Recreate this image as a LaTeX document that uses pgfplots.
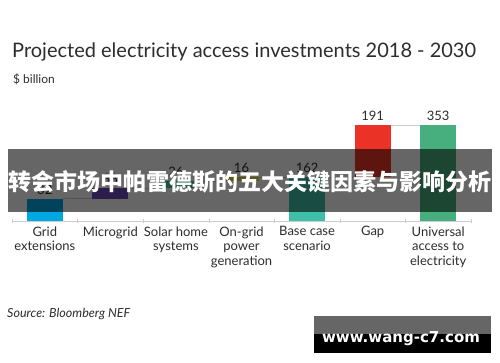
\documentclass[border=0pt]{standalone}
\usepackage{pgfplots}
\pgfplotsset{compat=1.18}
\usepackage{pgfplotstable}
\usepackage{fontspec}
\setmainfont{Lato}
\newfontfamily\cjk{Noto Sans CJK SC}
\newfontfamily\wm{DejaVu Sans}
\definecolor{cgrid}{RGB}{0,168,225}
\definecolor{cmicro}{RGB}{110,75,190}
\definecolor{csolar}{RGB}{62,205,155}
\definecolor{congrid}{RGB}{232,208,62}
\definecolor{cbase}{RGB}{63,190,168}
\definecolor{cgap}{RGB}{235,50,38}
\definecolor{cuniv}{RGB}{70,175,125}
\definecolor{txt}{RGB}{45,45,45}
\definecolor{axl}{RGB}{205,205,205}
\pgfplotstableread{
x off grid micro solar ongrid base gap univ
0 0   82 0  0  0  0   0   0
1 82  0  38 0  0  0   0   0
2 120 0  0  26 0  0   0   0
3 146 0  0  0  16 0   0   0
4 0   0  0  0  0  162 0   0
5 162 0  0  0  0  0   191 0
6 0   0  0  0  0  0   0   353
}\data
\pgfplotstableread{
x top label
0 82  82
1 120 38
2 146 26
3 162 16
4 162 162
5 353 191
6 353 353
}\labels
\pgfplotsset{common/.style={
  at={(12pt,141pt)}, anchor=south west,
  scale only axis, width=459pt, height=108.8pt,
  xmin=-0.5, xmax=6.5, ymin=0, ymax=400, clip=false}}
\begin{document}
\begin{tikzpicture}[x=1pt,y=1pt]
\useasboundingbox[fill=white] (0,0) rectangle (500,362);
\begin{axis}[common,
  ybar stacked, bar width=36pt,
  axis x line*=bottom, axis y line=none,
  x axis line style={draw=axl, -},
  xtick={0,...,6},
  xticklabels={Grid\\extensions, Microgrid, Solar home\\systems, On-grid\\power\\generation, Base case\\scenario, Gap, Universal\\access to\\electricity},
  major tick length=0pt,
  minor xtick={-0.5,0.5,...,6.5},
  minor tick length=4pt, tick align=center,
  minor tick style={draw=axl},
  xticklabel style={font=\fontsize{13}{14.5}\selectfont, align=center, text=txt, yshift=-2pt},
]
\addplot[fill=none, draw=none] table[x=x, y=off] {\data};
\addplot[fill=cgrid, draw=none] table[x=x, y=grid] {\data};
\addplot[fill=cmicro, draw=none] table[x=x, y=micro] {\data};
\addplot[fill=csolar, draw=none] table[x=x, y=solar] {\data};
\addplot[fill=congrid, draw=none] table[x=x, y=ongrid] {\data};
\addplot[fill=cbase, draw=none] table[x=x, y=base] {\data};
\addplot[fill=cgap, draw=none] table[x=x, y=gap] {\data};
\addplot[fill=cuniv, draw=none] table[x=x, y=univ] {\data};
\end{axis}
\begin{axis}[common, axis lines=none, xtick=\empty, ytick=\empty]
% connectors
\addplot[draw=axl, line width=0.6pt, unbounded coords=jump, mark=none] coordinates {
 (0.275,82) (0.725,82) (nan,nan)
 (1.275,120) (1.725,120) (nan,nan)
 (2.275,146) (2.725,146) (nan,nan)
 (3.275,162) (3.725,162) (nan,nan)
 (4.275,162) (4.725,162) (nan,nan)
 (5.275,353) (5.725,353)};
% labels
\addplot[draw=none, mark=none, nodes near coords, point meta=explicit symbolic,
  every node near coord/.append style={font=\fontsize{13}{14}\selectfont, text=txt, anchor=south, yshift=1pt}]
 table[x=x, y=top, meta=label] {\labels};
\end{axis}
\node[anchor=base west, text=txt, font=\fontsize{20}{24}\selectfont, inner sep=0] at (12,304) {Projected electricity access investments 2018 - 2030};
\node[anchor=base west, text=txt, font=\fontsize{12}{14}\selectfont, inner sep=0] at (13,278) {\$ billion};
\node[anchor=base west, text=txt, font=\itshape\fontsize{12.5}{14}\selectfont, inner sep=0] at (7,45) {Source: Bloomberg NEF};
% banner
\fill[black, opacity=0.6] (8,150) rectangle (492,213);
\node[text=white, font=\cjk\bfseries\fontsize{23}{26}\selectfont, inner sep=0] at (250,180) {转会市场中帕雷德斯的五大关键因素与影响分析};
% watermark
\fill[black!60] (314,28) rectangle (491,46);
\fill[black] (314,9) rectangle (491,28);
\node[text=white, font=\wm\bfseries\fontsize{15}{18}\selectfont, inner sep=0] at (401,23) {www.wang-c7.com};
\end{tikzpicture}
\end{document}
